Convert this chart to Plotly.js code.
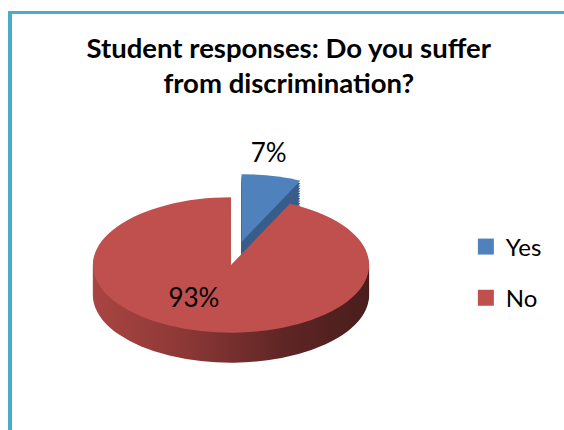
<!DOCTYPE html>
<html>
<head>
<meta charset="utf-8">
<script src="https://cdn.plot.ly/plotly-3.0.1.min.js"></script>
<style>
  html, body { margin: 0; padding: 0; background: #fff; }
  #chart { width: 564px; height: 430px; }
</style>
</head>
<body>
<div id="chart"></div>
<script>
// ---- data ----
const categories = ['Yes', 'No'];
const responseValues = [7, 93];
const titleText = 'Student responses: Do you suffer<br>from discrimination?';

// ---- styling ----
const topColors = ['#4f81bd', '#c0504d'];
const sideColors = ['#385d8a', '#8c3a38'];
const pulls = [0.35, 0];
const FONT = 'Lato, "Liberation Sans", Arial, sans-serif';
const DEPTH = 30;           // px thickness of the 3-D side
const LAYERS = 12;          // number of stacked side layers
const SQUASH = 0.49;        // vertical squash of the pie (tilt)
const TARGET_CY = 265;      // pixel centre of the squashed top face
const LABEL_NUDGE = [[-29, -16], [-22, -1]]; // label offsets (outside, inside)
const LEGEND_EXTRA_GAP = 17;

const pieDomain = { x: [0.0789, 0.7402], y: [0, 1] };

const traces = [];
for (let k = LAYERS; k >= 1; k--) {
  traces.push({
    type: 'pie', labels: categories, values: responseValues, sort: false,
    direction: 'clockwise', rotation: 0, pull: pulls, domain: pieDomain,
    marker: { colors: sideColors, line: { width: 0 } },
    textinfo: 'none', hoverinfo: 'skip', showlegend: false,
    name: 'side' + k
  });
}
traces.push({
  type: 'pie', labels: categories, values: responseValues, sort: false,
  direction: 'clockwise', rotation: 0, pull: pulls, domain: pieDomain,
  marker: { colors: topColors, line: { width: 0 } },
  textinfo: 'percent', textposition: ['outside', 'inside'],
  insidetextorientation: 'horizontal',
  textfont: { family: FONT, size: 26, color: '#000000' },
  hoverinfo: 'label+percent', showlegend: true, name: 'top'
});

const layout = {
  width: 564, height: 430,
  margin: { l: 0, r: 0, t: 0, b: 0 },
  paper_bgcolor: '#ffffff', plot_bgcolor: '#ffffff',
  title: {
    text: titleText,
    font: { family: FONT, size: 27.5, color: '#000000', weight: 700 },
    x: 0.512, xanchor: 'center', y: 0.866, yanchor: 'top', yref: 'container'
  },
  showlegend: true,
  legend: {
    x: 0.826, xanchor: 'left', y: 0.478, yanchor: 'top',
    font: { family: FONT, size: 24, color: '#000000' },
    bgcolor: 'rgba(0,0,0,0)'
  },
  shapes: [
    { type: 'line', xref: 'paper', yref: 'paper', x0: 8 / 564, x1: 1, y0: 1 - 12.5 / 430, y1: 1 - 12.5 / 430,
      line: { color: '#4bacc6', width: 3 } },
    { type: 'line', xref: 'paper', yref: 'paper', x0: 10 / 564, x1: 10 / 564, y0: 0, y1: 1 - 11 / 430,
      line: { color: '#4bacc6', width: 4 } }
  ]
};

const gd = document.getElementById('chart');
Plotly.newPlot(gd, traces, layout, { staticPlot: true, displayModeBar: false }).then(() => {
  const svg = gd.querySelector('.main-svg');
  const cd0 = gd.calcdata[0][0];
  const cx = cd0.cx, cy0 = cd0.cy, r = cd0.r;

  // gradient for the red side wall
  const NS = 'http://www.w3.org/2000/svg';
  let defs = svg.querySelector('defs');
  if (!defs) { defs = document.createElementNS(NS, 'defs'); svg.insertBefore(defs, svg.firstChild); }
  const grad = document.createElementNS(NS, 'linearGradient');
  grad.setAttribute('id', 'sideRedGrad');
  grad.setAttribute('gradientUnits', 'userSpaceOnUse');
  grad.setAttribute('x1', cx - r); grad.setAttribute('x2', cx + r);
  grad.setAttribute('y1', 0); grad.setAttribute('y2', 0);
  [['0', '#a94542'], ['0.35', '#8a3735'], ['0.7', '#5e2524'], ['1', '#4a1d1d']].forEach(([o, c]) => {
    const s = document.createElementNS(NS, 'stop');
    s.setAttribute('offset', o); s.setAttribute('stop-color', c);
    grad.appendChild(s);
  });
  defs.appendChild(grad);

  const groups = gd.querySelectorAll('.pielayer .trace');
  groups.forEach((g, i) => {
    const isTop = i === groups.length - 1;
    const off = isTop ? 0 : DEPTH * (LAYERS - i) / LAYERS;
    const tf = `translate(0,${TARGET_CY + off}) scale(1,${SQUASH}) translate(0,${-cy0})`;
    g.querySelectorAll('path.surface').forEach((p, j) => {
      p.setAttribute('transform', tf);
      if (!isTop && j === 1) p.style.fill = 'url(#sideRedGrad)';
    });
    if (isTop) {
      g.querySelectorAll('g.slice').forEach((sl, j) => {
        const t = sl.querySelector('text.slicetext');
        if (!t) return;
        const bb = t.getBoundingClientRect();
        const cur = bb.top + bb.height / 2;
        const nudge = LABEL_NUDGE[j] || [0, 0];
        const want = TARGET_CY + (cur - cy0) * SQUASH + nudge[1];
        const tr = t.getAttribute('transform') || '';
        const m = tr.match(/translate\(\s*([-\d.e]+)\s*,\s*([-\d.e]+)\s*\)/);
        if (m) {
          const nt = `translate(${parseFloat(m[1]) + nudge[0]},${parseFloat(m[2]) + (want - cur)})`;
          t.setAttribute('transform', tr.replace(m[0], nt));
        }
      });
    }
  });

  // larger legend swatches and wider item spacing
  gd.querySelectorAll('.legend [clip-path]').forEach(e => e.removeAttribute('clip-path'));
  gd.querySelectorAll('.legend path.legendpie').forEach(p => {
    p.setAttribute('d', 'M8,8H-8V-8H8Z');
  });
  gd.querySelectorAll('.legend g.traces').forEach((it, idx) => {
    const tr = it.getAttribute('transform') || '';
    const m = tr.match(/translate\(\s*([-\d.e]+)\s*,\s*([-\d.e]+)\s*\)/);
    if (m && idx > 0) {
      it.setAttribute('transform', tr.replace(m[0],
        `translate(${m[1]},${parseFloat(m[2]) + LEGEND_EXTRA_GAP * idx})`));
    }
  });
});
</script>
</body>
</html>
